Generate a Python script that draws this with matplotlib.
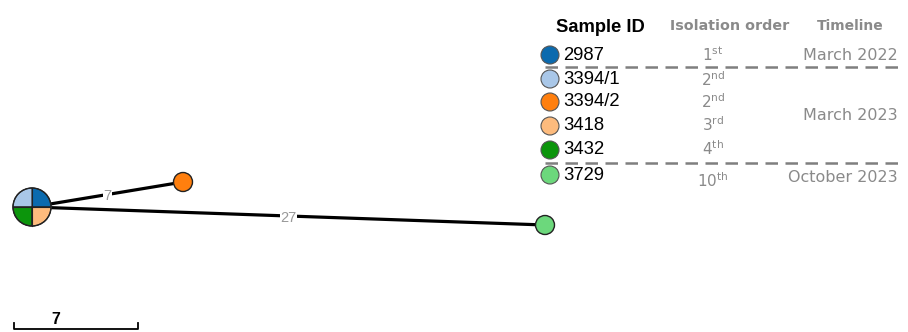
import matplotlib
matplotlib.use("Agg")
import matplotlib.pyplot as plt
from matplotlib.patches import Wedge, Circle

# network nodes (pixel layout of the drawing)
node_names = ["hub", "3394/2", "3729"]
node_x = [32, 183, 545]
node_y = [207, 182, 225]
edge_to = [1, 2]
edge_snps = ["7", "27"]

samples = ["2987", "3394/1", "3394/2", "3418", "3432", "3729"]
colors = ["#0b6aae", "#a9c7e8", "#ff7f0e", "#fdbb7d", "#0c950c", "#6cd87c"]
order_num = ["1", "2", "2", "3", "4", "10"]
order_suf = ["st", "nd", "nd", "rd", "th", "th"]
order_y = [55, 80, 102, 125, 149, 181]
row_y = [55, 79, 102, 126, 150, 175]
timeline = ["March 2022", "March 2023", "October 2023"]
timeline_y = [55, 116, 177]
# hub quadrants: (sample index, start angle) -- y axis is inverted
hub_parts = [(0, 270), (1, 180), (4, 90), (3, 0)]

fig = plt.figure(figsize=(9.08, 3.32), dpi=100)
ax = fig.add_axes([0, 0, 1, 1])
ax.set_xlim(0, 908)
ax.set_ylim(332, 0)
ax.set_aspect("equal")
ax.axis("off")

grey = "#8a8a8a"

# edges
for k, j in enumerate(edge_to):
    ax.plot([node_x[0], node_x[j]], [node_y[0], node_y[j]], color="black", lw=2.3, zorder=1)
    mx = node_x[0] + (node_x[j] - node_x[0]) * 0.5
    my = node_y[0] + (node_y[j] - node_y[0]) * 0.5
    ax.text(mx, my + 1.5, edge_snps[k], color="#999999", fontsize=10.5, ha="center", va="center",
            family="Liberation Sans",
            bbox=dict(facecolor="white", edgecolor="none", pad=0.3), zorder=2)

# hub pie
for idx, a0 in hub_parts:
    ax.add_patch(Wedge((node_x[0], node_y[0]), 19, a0, a0 + 90, facecolor=colors[idx],
                       edgecolor="#222222", lw=0.8, zorder=3))
ax.plot([node_x[0] - 19, node_x[0] + 19], [node_y[0], node_y[0]], color="#222222", lw=0.8, zorder=4)
ax.plot([node_x[0], node_x[0]], [node_y[0] - 19, node_y[0] + 19], color="#222222", lw=0.8, zorder=4)
ax.add_patch(Circle((node_x[0], node_y[0]), 19, facecolor="none", edgecolor="#222222", lw=1.0, zorder=4))

ax.add_patch(Circle((node_x[1], node_y[1]), 9.5, facecolor=colors[2], edgecolor="#222222", lw=1.0, zorder=3))
ax.add_patch(Circle((node_x[2], node_y[2]), 9.5, facecolor=colors[5], edgecolor="#222222", lw=1.0, zorder=3))

# legend table
ax.text(556, 27, "Sample ID", fontsize=13.2, fontweight="bold", family="Liberation Sans",
        va="center", ha="left")
ax.text(730, 26, "Isolation order", fontsize=10.3, fontweight="bold", color=grey,
        family="DejaVu Sans", va="center", ha="center")
ax.text(850, 26, "Timeline", fontsize=10, fontweight="bold", color=grey,
        family="DejaVu Sans", va="center", ha="center")

for i, s in enumerate(samples):
    ax.add_patch(Circle((550, row_y[i]), 9, facecolor=colors[i], edgecolor="#555555", lw=0.8))
    ax.text(563, row_y[i], s, fontsize=13.3, family="Liberation Sans", va="center", ha="left")
    ax.text(713, order_y[i], order_num[i] + r"$^{\mathrm{" + order_suf[i] + "}}$",
            fontsize=11, color=grey, family="DejaVu Sans", va="center", ha="center")

for t, y in zip(timeline, timeline_y):
    ax.text(898, y, t, fontsize=11.5, color=grey, family="DejaVu Sans", va="center", ha="right")

for y in [67, 163]:
    ax.plot([545, 905], [y, y], color="#7f7f7f", lw=1.8, ls=(0, (5, 3)))

# scale bar
ax.plot([14, 14, 138, 138], [323, 329, 329, 323], color="black", lw=1.3)
ax.text(56, 320, "7", fontsize=11.5, fontweight="bold", family="Liberation Sans",
        ha="center", va="center")

fig.savefig("out.png", dpi=100)
